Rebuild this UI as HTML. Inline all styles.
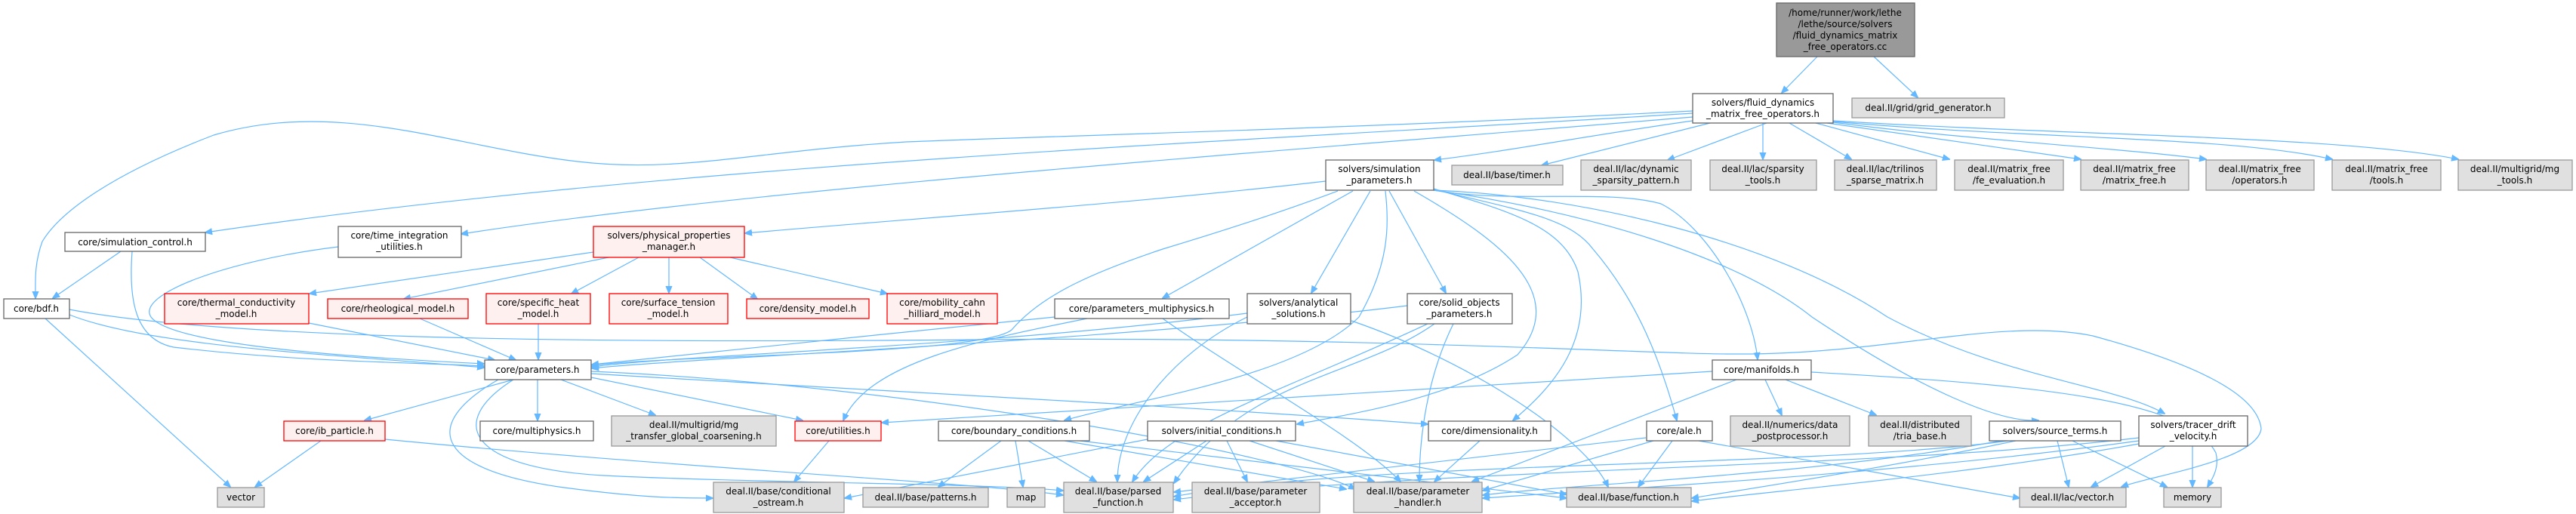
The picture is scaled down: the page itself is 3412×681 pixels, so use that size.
<!DOCTYPE html>
<html><head><meta charset="utf-8"><style>
html,body{margin:0;padding:0;background:#fff;}
svg{display:block}
text{font-family:"DejaVu Sans","Liberation Sans",sans-serif;font-size:12px;fill:#000;text-anchor:middle}
.w{fill:#fff;stroke:#666;stroke-width:1.3}
.g{fill:#e0e0e0;stroke:#999;stroke-width:1.3}
.r{fill:#fff0f0;stroke:#f00;stroke-width:1.3}
.t{fill:#999;stroke:#666;stroke-width:1.3}
.e path{fill:none;stroke:#63b8ff;stroke-width:1.2;marker-end:url(#a)}
</style></head><body>
<svg width="3412" height="681" viewBox="0 0 3412 681" xmlns="http://www.w3.org/2000/svg">
<defs><marker id="a" markerWidth="10" markerHeight="10" refX="9" refY="5" orient="auto" markerUnits="userSpaceOnUse"><path d="M0,1 L10,5 L0,9 z" fill="#63b8ff" stroke="#63b8ff"/></marker></defs>
<g class="e">
<path d="M2407,75 L2360,123"/>
<path d="M2482,75 L2540,129"/>
<path d="M2242,147 C1800,170 1400,180 1200,188 C1000,200 900,230 765,214 C600,195 450,130 283,179 C150,230 80,280 56,320 C45,350 47,375 47,395"/>
<path d="M2242,150 C1700,185 900,215 272,308"/>
<path d="M2242,155 C1700,200 1000,250 611,310"/>
<path d="M2242,160 C2100,180 2000,200 1900,212"/>
<path d="M2265,163 L2042,219"/>
<path d="M2340,163 L2209,212"/>
<path d="M2335,163 L2335,211"/>
<path d="M2370,163 L2452,211"/>
<path d="M2405,163 L2582,211"/>
<path d="M2420,163 L2756,211"/>
<path d="M2428,162 C2600,185 2800,195 2922,211"/>
<path d="M2428,161 C2700,185 2950,180 3089,211"/>
<path d="M2428,160 C2750,180 3100,180 3256,211"/>
<path d="M1756,240 C1500,270 1200,290 987,309"/>
<path d="M1772,253 C1700,280 1620,306 1540,330 C1450,360 1380,390 1340,437 C1300,470 900,470 784,484"/>
<path d="M1792,253 L1540,395"/>
<path d="M1815,253 L1737,388"/>
<path d="M1840,253 L1915,388"/>
<path d="M1835,253 C1840,300 1840,350 1800,420 C1720,500 1500,530 1410,557"/>
<path d="M1873,253 C1990,320 2080,390 2010,470 C1920,530 1780,550 1718,562"/>
<path d="M1899,250 C2000,280 2070,300 2090,360 C2110,450 2060,510 2004,557"/>
<path d="M1899,251 C2020,280 2080,290 2110,330 C2170,400 2200,480 2221,557"/>
<path d="M1899,252 C2000,270 2130,250 2200,270 C2260,300 2320,400 2328,476"/>
<path d="M1899,252 C2100,280 2300,340 2400,420 C2550,520 2650,560 2700,557"/>
<path d="M1899,252 C2100,260 2350,320 2500,420 C2650,500 2800,510 2867,548"/>
<path d="M786,334 L410,389"/>
<path d="M806,341 L535,396"/>
<path d="M846,341 L757,389"/>
<path d="M886,341 L886,388"/>
<path d="M927,341 L1003,396"/>
<path d="M967,341 L1175,389"/>
<path d="M409,428 L655,477"/>
<path d="M556,422 L683,477"/>
<path d="M713,429 L713,476"/>
<path d="M160,333 L70,395"/>
<path d="M175,333 C170,400 180,450 230,460 C400,480 550,480 641,485"/>
<path d="M448,327 C300,345 180,390 200,420 C230,460 500,475 641,482"/>
<path d="M92,417 C200,460 450,470 641,487"/>
<path d="M60,422 L305,645"/>
<path d="M92,410 C300,450 800,455 1300,450 C1800,445 2200,470 2300,469 C2500,470 2650,420 2772,445 C2900,480 2990,520 2995,568 C2990,610 2850,630 2810,645"/>
<path d="M1397,420 C1200,440 900,470 784,483"/>
<path d="M1652,415 C1300,460 900,470 784,486"/>
<path d="M1864,405 C1500,450 900,475 784,488"/>
<path d="M1440,422 C1300,450 1150,480 1117,557"/>
<path d="M2268,492 L1168,560"/>
<path d="M680,503 L483,557"/>
<path d="M712,503 L712,557"/>
<path d="M743,503 L868,550"/>
<path d="M783,500 L1063,557"/>
<path d="M783,495 C1200,520 1600,540 1891,562"/>
<path d="M783,492 C1200,510 1700,600 1795,648"/>
<path d="M660,503 C560,560 570,620 740,645 C850,660 900,660 944,660"/>
<path d="M680,503 C590,560 620,620 800,630 C1000,640 1300,640 1408,650"/>
<path d="M510,582 C900,620 1300,640 1408,656"/>
<path d="M425,584 L338,645"/>
<path d="M1098,584 L1052,638"/>
<path d="M1326,584 L1243,645"/>
<path d="M1345,584 L1355,645"/>
<path d="M1362,584 L1452,638"/>
<path d="M1410,584 L1783,648"/>
<path d="M1430,584 L2075,660"/>
<path d="M1598,584 L1515,638"/>
<path d="M1625,584 L1652,638"/>
<path d="M1655,584 L1820,638"/>
<path d="M1690,584 L2075,655"/>
<path d="M1520,582 L1119,660"/>
<path d="M1960,584 L1900,638"/>
<path d="M2180,580 L1555,652"/>
<path d="M2190,584 L1964,650"/>
<path d="M2215,584 L2170,645"/>
<path d="M2250,584 L2675,660"/>
<path d="M2338,503 L2360,550"/>
<path d="M2365,503 L2485,550"/>
<path d="M2300,503 L1950,638"/>
<path d="M2399,493 C2700,510 2900,530 2935,600 C2940,620 2930,635 2924,645"/>
<path d="M1540,422 C1650,500 1800,580 1855,638"/>
<path d="M1652,420 C1550,470 1480,560 1480,638"/>
<path d="M1790,425 C1950,480 2100,580 2130,645"/>
<path d="M1900,429 C1800,500 1650,500 1555,640"/>
<path d="M1925,429 C1890,500 1880,580 1880,638"/>
<path d="M1910,420 C1700,520 1550,560 1500,638"/>
<path d="M2660,584 C2400,620 1800,610 1555,658"/>
<path d="M2650,584 C2400,630 2100,640 1964,656"/>
<path d="M2670,584 C2500,620 2300,650 2241,660"/>
<path d="M2725,584 L2740,645"/>
<path d="M2745,584 L2870,645"/>
<path d="M2833,580 C2500,620 1900,620 1555,662"/>
<path d="M2833,584 C2500,630 2100,650 1964,660"/>
<path d="M2833,588 C2600,630 2350,650 2241,664"/>
<path d="M2868,591 L2770,645"/>
<path d="M2904,591 L2904,645"/>
</g>
<g>
<rect class="t" x="2353" y="4" width="183" height="71"/>
<text x="2444" y="21">/home/runner/work/lethe</text><text x="2444" y="36">/lethe/source/solvers</text><text x="2444" y="51">/fluid_dynamics_matrix</text><text x="2444" y="66">_free_operators.cc</text>
<rect class="w" x="2242" y="124" width="186" height="39"/>
<text x="2335" y="140">solvers/fluid_dynamics</text><text x="2335" y="155">_matrix_free_operators.h</text>
<rect class="g" x="2453" y="130" width="202" height="26"/><text x="2554" y="147">deal.II/grid/grid_generator.h</text>
<rect class="w" x="1756" y="212" width="143" height="40"/><text x="1827" y="228">solvers/simulation</text><text x="1827" y="243">_parameters.h</text>
<rect class="g" x="1923" y="219" width="147" height="26"/><text x="1996" y="236">deal.II/base/timer.h</text>
<rect class="g" x="2094" y="212" width="146" height="40"/><text x="2167" y="228">deal.II/lac/dynamic</text><text x="2167" y="243">_sparsity_pattern.h</text>
<rect class="g" x="2265" y="212" width="141" height="40"/><text x="2335" y="228">deal.II/lac/sparsity</text><text x="2335" y="243">_tools.h</text>
<rect class="g" x="2430" y="212" width="135" height="40"/><text x="2497" y="228">deal.II/lac/trilinos</text><text x="2497" y="243">_sparse_matrix.h</text>
<rect class="g" x="2589" y="212" width="144" height="40"/><text x="2661" y="228">deal.II/matrix_free</text><text x="2661" y="243">/fe_evaluation.h</text>
<rect class="g" x="2756" y="212" width="143" height="40"/><text x="2827" y="228">deal.II/matrix_free</text><text x="2827" y="243">/matrix_free.h</text>
<rect class="g" x="2922" y="212" width="143" height="40"/><text x="2993" y="228">deal.II/matrix_free</text><text x="2993" y="243">/operators.h</text>
<rect class="g" x="3089" y="212" width="144" height="40"/><text x="3161" y="228">deal.II/matrix_free</text><text x="3161" y="243">/tools.h</text>
<rect class="g" x="3256" y="212" width="151" height="40"/><text x="3331" y="228">deal.II/multigrid/mg</text><text x="3331" y="243">_tools.h</text>
<rect class="w" x="86" y="308" width="186" height="25"/><text x="179" y="325">core/simulation_control.h</text>
<rect class="w" x="448" y="300" width="163" height="41"/><text x="529" y="316">core/time_integration</text><text x="529" y="331">_utilities.h</text>
<rect class="r" x="786" y="300" width="200" height="41"/><text x="886" y="316">solvers/physical_properties</text><text x="886" y="331">_manager.h</text>
<rect class="w" x="5" y="396" width="87" height="26"/><text x="48" y="413">core/bdf.h</text>
<rect class="r" x="218" y="389" width="191" height="40"/><text x="313" y="405">core/thermal_conductivity</text><text x="313" y="420">_model.h</text>
<rect class="r" x="434" y="396" width="186" height="26"/><text x="527" y="413">core/rheological_model.h</text>
<rect class="r" x="644" y="389" width="138" height="40"/><text x="713" y="405">core/specific_heat</text><text x="713" y="420">_model.h</text>
<rect class="r" x="807" y="389" width="157" height="40"/><text x="885" y="405">core/surface_tension</text><text x="885" y="420">_model.h</text>
<rect class="r" x="989" y="396" width="162" height="26"/><text x="1070" y="413">core/density_model.h</text>
<rect class="r" x="1175" y="389" width="146" height="40"/><text x="1248" y="405">core/mobility_cahn</text><text x="1248" y="420">_hilliard_model.h</text>
<rect class="w" x="1397" y="396" width="231" height="26"/><text x="1512" y="413">core/parameters_multiphysics.h</text>
<rect class="w" x="1652" y="389" width="137" height="40"/><text x="1720" y="405">solvers/analytical</text><text x="1720" y="420">_solutions.h</text>
<rect class="w" x="1864" y="389" width="139" height="40"/><text x="1933" y="405">core/solid_objects</text><text x="1933" y="420">_parameters.h</text>
<rect class="w" x="642" y="477" width="141" height="26"/><text x="712" y="494">core/parameters.h</text>
<rect class="w" x="2268" y="477" width="131" height="26"/><text x="2333" y="494">core/manifolds.h</text>
<rect class="r" x="376" y="558" width="134" height="26"/><text x="443" y="575">core/ib_particle.h</text>
<rect class="w" x="636" y="558" width="150" height="26"/><text x="711" y="575">core/multiphysics.h</text>
<rect class="g" x="810" y="551" width="218" height="40"/><text x="919" y="567">deal.II/multigrid/mg</text><text x="919" y="582">_transfer_global_coarsening.h</text>
<rect class="r" x="1053" y="558" width="114" height="26"/><text x="1110" y="575">core/utilities.h</text>
<rect class="w" x="1243" y="558" width="200" height="26"/><text x="1343" y="575">core/boundary_conditions.h</text>
<rect class="w" x="1520" y="558" width="196" height="26"/><text x="1618" y="575">solvers/initial_conditions.h</text>
<rect class="w" x="1892" y="558" width="162" height="26"/><text x="1973" y="575">core/dimensionality.h</text>
<rect class="w" x="2181" y="558" width="87" height="26"/><text x="2224" y="575">core/ale.h</text>
<rect class="g" x="2292" y="551" width="158" height="40"/><text x="2371" y="567">deal.II/numerics/data</text><text x="2371" y="582">_postprocessor.h</text>
<rect class="g" x="2475" y="551" width="136" height="40"/><text x="2543" y="567">deal.II/distributed</text><text x="2543" y="582">/tria_base.h</text>
<rect class="w" x="2635" y="558" width="174" height="26"/><text x="2722" y="575">solvers/source_terms.h</text>
<rect class="w" x="2833" y="551" width="144" height="40"/><text x="2905" y="567">solvers/tracer_drift</text><text x="2905" y="582">_velocity.h</text>
<rect class="g" x="288" y="646" width="62" height="26"/><text x="319" y="663">vector</text>
<rect class="g" x="945" y="639" width="173" height="40"/><text x="1031" y="655">deal.II/base/conditional</text><text x="1031" y="670">_ostream.h</text>
<rect class="g" x="1143" y="646" width="166" height="26"/><text x="1226" y="663">deal.II/base/patterns.h</text>
<rect class="g" x="1334" y="646" width="50" height="26"/><text x="1359" y="663">map</text>
<rect class="g" x="1409" y="639" width="145" height="40"/><text x="1481" y="655">deal.II/base/parsed</text><text x="1481" y="670">_function.h</text>
<rect class="g" x="1579" y="639" width="169" height="40"/><text x="1663" y="655">deal.II/base/parameter</text><text x="1663" y="670">_acceptor.h</text>
<rect class="g" x="1793" y="639" width="170" height="40"/><text x="1878" y="655">deal.II/base/parameter</text><text x="1878" y="670">_handler.h</text>
<rect class="g" x="2075" y="646" width="165" height="26"/><text x="2157" y="663">deal.II/base/function.h</text>
<rect class="g" x="2675" y="646" width="141" height="26"/><text x="2745" y="663">deal.II/lac/vector.h</text>
<rect class="g" x="2866" y="646" width="76" height="26"/><text x="2904" y="663">memory</text>
</g>
</svg>
</body></html>
